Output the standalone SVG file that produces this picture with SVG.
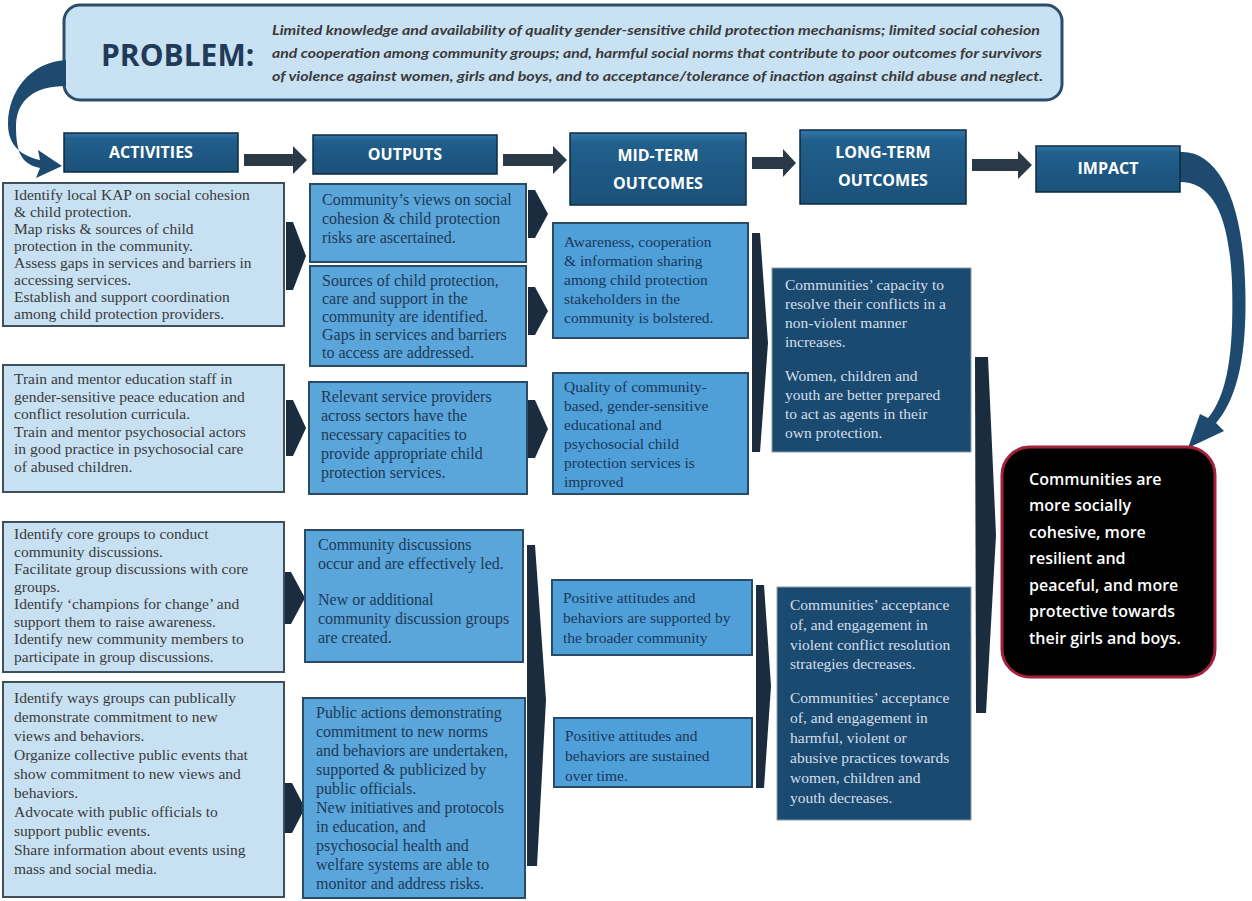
<svg xmlns="http://www.w3.org/2000/svg" width="1252" height="901" viewBox="0 0 1252 901">
<defs>
<linearGradient id="hg" x1="0" y1="0" x2="0" y2="1">
<stop offset="0" stop-color="#3277a8"/>
<stop offset="0.15" stop-color="#215f8c"/>
<stop offset="1" stop-color="#1a5179"/>
</linearGradient>
<style>
.hdr rect{fill:url(#hg);stroke:#0e2a40;stroke-width:1.5}
.hdr text{font-family:"Open Sans","Liberation Sans",sans-serif;font-weight:700;font-size:16px;fill:#ffffff;text-anchor:middle}
.act rect{fill:#c7e1f3;stroke:#3f4f5c;stroke-width:2}
.act text{font-family:"Liberation Serif",serif;font-size:15.5px;fill:#3a3a3a}
.out rect{fill:#5aa5d9;stroke:#2a4a66;stroke-width:2}
.out text{font-family:"Liberation Serif",serif;font-size:16px;fill:#1d3a58}
.mid rect{fill:#4f9fd9;stroke:#2a4a66;stroke-width:2}
.mid text{font-family:"Liberation Serif",serif;font-size:15.5px;fill:#1a385a}
.lng rect{fill:#1b4a70;stroke:#8c9aa6;stroke-width:1}
.lng text{font-family:"Liberation Serif",serif;font-size:15.5px;fill:#d3dfea}
.imp text{font-family:"Open Sans","Liberation Sans",sans-serif;font-weight:600;font-size:16px;fill:#ffffff}
.ptxt{font-family:Lato,"Open Sans",sans-serif;font-style:italic;font-weight:700;font-size:14px;fill:#3a3a3a}
.chev{fill:#1a2c3e}
.harrow{fill:#2b3947}
.curve{fill:#1d4a6e}
</style>
</defs>
<rect width="1252" height="901" fill="#ffffff"/>

<g id="problem">
<rect x="64" y="5" width="998" height="95" rx="16" fill="#c8e1f3" stroke="#2c4d6b" stroke-width="3"/>
<text x="101" y="66" font-family="'Open Sans','Liberation Sans',sans-serif" font-weight="700" font-size="30" fill="#1f3b57">PROBLEM:</text>
<text class="ptxt" x="272" y="35" textLength="768" lengthAdjust="spacingAndGlyphs">Limited knowledge and availability of quality gender-sensitive child protection mechanisms; limited social cohesion</text>
<text class="ptxt" x="272" y="58" textLength="770" lengthAdjust="spacingAndGlyphs">and cooperation among community groups; and, harmful social norms that contribute to poor outcomes for survivors</text>
<text class="ptxt" x="272" y="81" textLength="771" lengthAdjust="spacingAndGlyphs">of violence against women, girls and boys, and to acceptance/tolerance of inaction against child abuse and neglect.</text>
</g>

<g id="connectors">
<path class="curve" d="M66,60 C30,62 8,92 8,124 C8,146 22,156 40,160 L38,150 L62,166 L36,178 L40,168 C19,164 16,148 16,125 C17,100 34,86 66,86 Z"/>
<path class="curve" d="M1180,152 C1218,150 1242,200 1245,280 C1248,352 1238,398 1216,423 L1224,431 L1188,448 L1200,414 L1208,418 C1228,394 1234,350 1232,282 C1229,214 1212,182 1180,182 Z"/>
<polygon class="harrow" points="244,154 293,154 293,146 307,160 293,174 293,166 244,166"/>
<polygon class="harrow" points="503,154 553,154 553,146 567,160 553,174 553,166 503,166"/>
<polygon class="harrow" points="752,157 783,157 783,149 796,163 783,177 783,169 752,169"/>
<polygon class="harrow" points="972,159 1018,159 1018,151 1032,165 1018,179 1018,171 972,171"/>
<polygon class="chev" points="286,222 293,222 306,256 293,290 286,290"/>
<polygon class="chev" points="528,190 535,190 548,214 535,238 528,238"/>
<polygon class="chev" points="528,287 535,287 548,311 535,335 528,335"/>
<polygon class="chev" points="286,400 293,400 306,428 293,456 286,456"/>
<polygon class="chev" points="528,400 535,400 548,429 535,458 528,458"/>
<polygon class="chev" points="284,572 291,572 305,598 291,624 284,624"/>
<polygon class="chev" points="285,783 292,783 305,808 292,833 285,833"/>
<polygon class="chev" points="527,545 535,545 546,700 537,866 527,866"/>
<polygon class="chev" points="752,233 760,233 768,343 760,452 752,452"/>
<polygon class="chev" points="756,585 764,585 771,686 764,788 756,788"/>
<polygon class="chev" points="975,357 988,357 996,535 986,713 976,713" fill="#1c3d5c"/>
</g>

<g id="h-activities" class="hdr"><rect x="64" y="133" width="174" height="39"/><text x="151" y="158">ACTIVITIES</text></g>
<g id="h-outputs" class="hdr"><rect x="313" y="135" width="184" height="39"/><text x="405" y="160">OUTPUTS</text></g>
<g id="h-mid" class="hdr"><rect x="570" y="133" width="176" height="72"/><text x="658" y="161">MID-TERM</text><text x="658" y="189">OUTCOMES</text></g>
<g id="h-long" class="hdr"><rect x="800" y="130" width="166" height="74"/><text x="883" y="158">LONG-TERM</text><text x="883" y="186">OUTCOMES</text></g>
<g id="h-impact" class="hdr"><rect x="1036" y="146" width="144" height="46"/><text x="1108" y="174">IMPACT</text></g>

<g id="a1" class="act"><rect x="3" y="183" width="281" height="143"/>
<text x="14" y="200">Identify local KAP on social cohesion</text>
<text x="14" y="217">&amp; child protection.</text>
<text x="14" y="234">Map risks &amp; sources of child</text>
<text x="14" y="251">protection in the community.</text>
<text x="14" y="268">Assess gaps in services and barriers in</text>
<text x="14" y="285">accessing services.</text>
<text x="14" y="302">Establish and support coordination</text>
<text x="14" y="319">among child protection providers.</text>
</g>
<g id="a2" class="act"><rect x="3" y="365" width="281" height="127"/>
<text x="14" y="384">Train and mentor education staff in</text>
<text x="14" y="401.5">gender-sensitive peace education and</text>
<text x="14" y="419">conflict resolution curricula.</text>
<text x="14" y="436.5">Train and mentor psychosocial actors</text>
<text x="14" y="454">in good practice in psychosocial care</text>
<text x="14" y="471.5">of abused children.</text>
</g>
<g id="a3" class="act"><rect x="3" y="522" width="281" height="150"/>
<text x="14" y="539">Identify core groups to conduct</text>
<text x="14" y="556.5">community discussions.</text>
<text x="14" y="574">Facilitate group discussions with core</text>
<text x="14" y="591.5">groups.</text>
<text x="14" y="609">Identify ‘champions for change’ and</text>
<text x="14" y="626.5">support them to raise awareness.</text>
<text x="14" y="644">Identify new community members to</text>
<text x="14" y="661.5">participate in group discussions.</text>
</g>
<g id="a4" class="act"><rect x="3" y="682" width="281" height="215"/>
<text x="14" y="703">Identify ways groups can publically</text>
<text x="14" y="722">demonstrate commitment to new</text>
<text x="14" y="741">views and behaviors.</text>
<text x="14" y="760">Organize collective public events that</text>
<text x="14" y="779">show commitment to new views and</text>
<text x="14" y="798">behaviors.</text>
<text x="14" y="817">Advocate with public officials to</text>
<text x="14" y="836">support public events.</text>
<text x="14" y="855">Share information about events using</text>
<text x="14" y="874">mass and social media.</text>
</g>

<g id="o1" class="out"><rect x="310" y="184" width="216" height="78"/>
<text x="322" y="205">Community’s views on social</text>
<text x="322" y="224">cohesion &amp; child protection</text>
<text x="322" y="243">risks are ascertained.</text>
</g>
<g id="o2" class="out"><rect x="310" y="266" width="216" height="100"/>
<text x="322" y="286">Sources of child protection,</text>
<text x="322" y="304">care and support in the</text>
<text x="322" y="322">community are identified.</text>
<text x="322" y="340">Gaps in services and barriers</text>
<text x="322" y="358">to access are addressed.</text>
</g>
<g id="o3" class="out"><rect x="309" y="382" width="218" height="112"/>
<text x="321" y="402">Relevant service providers</text>
<text x="321" y="421">across sectors have the</text>
<text x="321" y="440">necessary capacities to</text>
<text x="321" y="459">provide appropriate child</text>
<text x="321" y="478">protection services.</text>
</g>
<g id="o4" class="out"><rect x="305" y="530" width="218" height="132"/>
<text x="318" y="550">Community discussions</text>
<text x="318" y="569">occur and are effectively led.</text>
<text x="318" y="605">New or additional</text>
<text x="318" y="624">community discussion groups</text>
<text x="318" y="643">are created.</text>
</g>
<g id="o5" class="out"><rect x="303" y="698" width="222" height="200"/>
<text x="316" y="718">Public actions demonstrating</text>
<text x="316" y="737">commitment to new norms</text>
<text x="316" y="756">and behaviors are undertaken,</text>
<text x="316" y="775">supported &amp; publicized by</text>
<text x="316" y="794">public officials.</text>
<text x="316" y="813">New initiatives and protocols</text>
<text x="316" y="832">in education, and</text>
<text x="316" y="851">psychosocial health and</text>
<text x="316" y="870">welfare systems are able to</text>
<text x="316" y="889">monitor and address risks.</text>
</g>

<g id="m1" class="mid"><rect x="553" y="223" width="195" height="115"/>
<text x="564" y="247">Awareness, cooperation</text>
<text x="564" y="266">&amp; information sharing</text>
<text x="564" y="285">among child protection</text>
<text x="564" y="304">stakeholders in the</text>
<text x="564" y="323">community is bolstered.</text>
</g>
<g id="m2" class="mid"><rect x="553" y="373" width="195" height="121"/>
<text x="564" y="392">Quality of community-</text>
<text x="564" y="411">based, gender-sensitive</text>
<text x="564" y="430">educational and</text>
<text x="564" y="449">psychosocial child</text>
<text x="564" y="468">protection services is</text>
<text x="564" y="487">improved</text>
</g>
<g id="m3" class="mid"><rect x="552" y="580" width="200" height="75"/>
<text x="563" y="603">Positive attitudes and</text>
<text x="563" y="623">behaviors are supported by</text>
<text x="563" y="643">the broader community</text>
</g>
<g id="m4" class="mid"><rect x="554" y="718" width="198" height="69"/>
<text x="565" y="741">Positive attitudes and</text>
<text x="565" y="761">behaviors are sustained</text>
<text x="565" y="781">over time.</text>
</g>

<g id="l1" class="lng"><rect x="772" y="268" width="199" height="184"/>
<text x="785" y="290">Communities’ capacity to</text>
<text x="785" y="309">resolve their conflicts in a</text>
<text x="785" y="328">non-violent manner</text>
<text x="785" y="347">increases.</text>
<text x="785" y="381">Women, children and</text>
<text x="785" y="400">youth are better prepared</text>
<text x="785" y="419">to act as agents in their</text>
<text x="785" y="438">own protection.</text>
</g>
<g id="l2" class="lng"><rect x="777" y="587" width="194" height="233"/>
<text x="790" y="610">Communities’ acceptance</text>
<text x="790" y="630">of, and engagement in</text>
<text x="790" y="650">violent conflict resolution</text>
<text x="790" y="669">strategies decreases.</text>
<text x="790" y="703">Communities’ acceptance</text>
<text x="790" y="723">of, and engagement in</text>
<text x="790" y="743">harmful, violent or</text>
<text x="790" y="763">abusive practices towards</text>
<text x="790" y="783">women, children and</text>
<text x="790" y="803">youth decreases.</text>
</g>

<g id="impact" class="imp"><rect x="1002" y="447" width="213" height="230" rx="28" fill="#000000" stroke="#a3213a" stroke-width="3"/>
<text x="1029" y="485">Communities are</text>
<text x="1029" y="511">more socially</text>
<text x="1029" y="538">cohesive, more</text>
<text x="1029" y="564">resilient and</text>
<text x="1029" y="591">peaceful, and more</text>
<text x="1029" y="617">protective towards</text>
<text x="1029" y="644">their girls and boys.</text>
</g>
</svg>
